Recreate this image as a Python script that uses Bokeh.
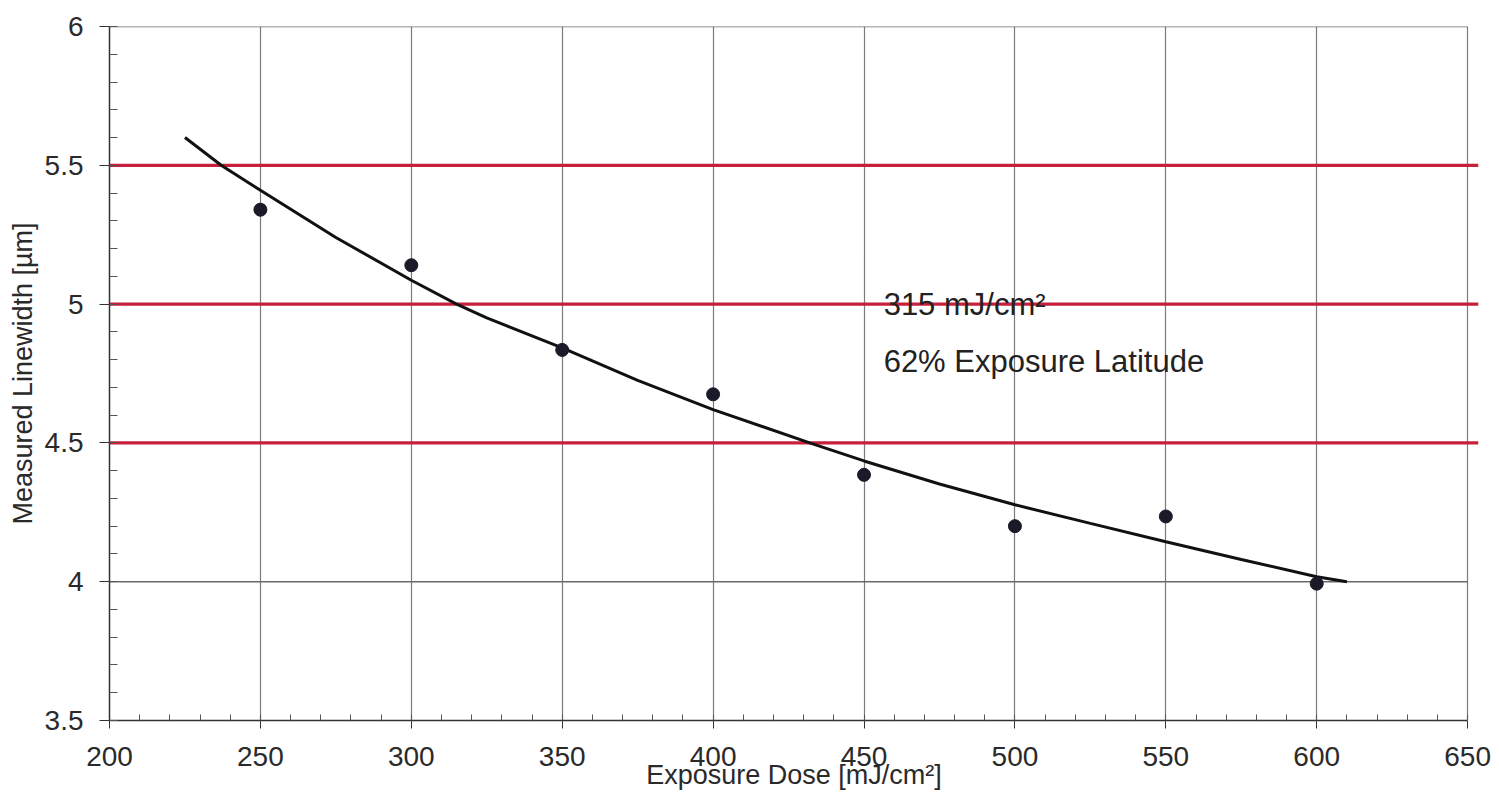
from bokeh.plotting import figure
from bokeh.models import Range1d, FixedTicker, CustomJSTickFormatter
from bokeh.core.properties import value
from bokeh.embed import file_html
from bokeh.resources import INLINE

# ---- data ----
dose = [250, 300, 350, 400, 450, 500, 550, 600]
linewidth = [5.34, 5.14, 4.835, 4.675, 4.385, 4.20, 4.235, 3.993]

fit_dose = [225, 237, 250, 275, 300, 315, 325, 350, 375, 400, 432, 450, 475, 500, 525, 550, 575, 600, 610]
fit_lw = [5.60, 5.50, 5.41, 5.24, 5.086, 5.0, 4.95, 4.842, 4.725, 4.62, 4.5, 4.435, 4.352, 4.277, 4.21, 4.144, 4.08, 4.018, 4.0]

spec_limits = [4.5, 5.0, 5.5]
ref_lines = [4.0, 6.0]

x_ticks = [200, 250, 300, 350, 400, 450, 500, 550, 600, 650]
y_ticks = [3.5, 4.0, 4.5, 5.0, 5.5, 6.0]

annot_text = ["315 mJ/cm\u00b2", "62% Exposure Latitude"]
annot_x = [456.5, 456.5]
annot_y = [5.0, 4.795]

FONT = "Liberation Sans"
X0, X1 = x_ticks[0], x_ticks[-1]
X_OVER = 653.6  # red limit lines run slightly past the right border

p = figure(width=1491, height=795, output_backend="svg", toolbar_location=None,
           x_range=Range1d(X0, X_OVER), y_range=Range1d(y_ticks[0], y_ticks[-1]),
           min_border_left=109, min_border_right=13, min_border_top=26, min_border_bottom=75)
p.outline_line_color = None
p.background_fill_color = "white"
p.border_fill_color = "white"

# grids
p.xgrid.ticker = FixedTicker(ticks=x_ticks[1:])
p.xgrid.grid_line_color = "#7a7a80"
p.xgrid.grid_line_width = 1.2
p.ygrid.grid_line_color = None

# y=4 grid line and top border
p.segment(x0=[X0] * len(ref_lines), x1=[X1] * len(ref_lines), y0=ref_lines, y1=ref_lines,
          line_color="#6a6a6a", line_width=1.4)

# spec limit red lines
p.segment(x0=[X0] * len(spec_limits), x1=[X_OVER] * len(spec_limits), y0=spec_limits, y1=spec_limits,
          line_color="#c8203c", line_width=3.2)

# fitted curve
p.line(fit_dose, fit_lw, line_color="#111111", line_width=3)

# measured points
p.scatter(dose, linewidth, size=13, fill_color="#1a1a28", line_color="#1a1a28")

# annotation texts
p.text(x=annot_x, y=annot_y, text=annot_text, text_font=value(FONT), text_font_size="31px",
       text_color="#222222", text_baseline="middle", text_align="left")

# axes
fmt = CustomJSTickFormatter(code="return tick.toString()")

xa = p.xaxis[0]
xa.ticker = FixedTicker(ticks=x_ticks, minor_ticks=list(range(X0, X1 + 1, 10)))
xa.formatter = fmt
xa.bounds = (X0, X1)
xa.axis_label = "Exposure Dose [mJ/cm\u00b2]"
xa.axis_line_color = "#333333"
xa.axis_line_width = 1.5
xa.major_tick_in = 0
xa.major_tick_out = 8
xa.minor_tick_in = 6
xa.minor_tick_out = 0
xa.major_tick_line_color = "#333333"
xa.minor_tick_line_color = "#555555"
xa.major_label_standoff = 18
xa.major_label_text_font = FONT
xa.major_label_text_font_size = "28px"
xa.major_label_text_color = "#2a2a2a"
xa.axis_label_text_font = FONT
xa.axis_label_text_font_size = "27px"
xa.axis_label_text_font_style = "normal"
xa.axis_label_text_color = "#2a2a2a"
xa.axis_label_standoff = -9

ya = p.yaxis[0]
ya.ticker = FixedTicker(ticks=y_ticks, minor_ticks=[round(3.5 + 0.1 * i, 1) for i in range(26)])
ya.formatter = fmt
ya.axis_label = "Measured Linewidth [\u00b5m]"
ya.axis_line_color = "#333333"
ya.axis_line_width = 1.5
ya.major_tick_in = 0
ya.major_tick_out = 10
ya.minor_tick_in = 8
ya.minor_tick_out = 0
ya.major_tick_line_color = "#333333"
ya.minor_tick_line_color = "#555555"
ya.major_label_standoff = 16
ya.major_label_text_font = FONT
ya.major_label_text_font_size = "28px"
ya.major_label_text_color = "#2a2a2a"
ya.axis_label_text_font = FONT
ya.axis_label_text_font_size = "27px"
ya.axis_label_text_font_style = "normal"
ya.axis_label_text_color = "#2a2a2a"
ya.axis_label_standoff = 4

open("out.html", "w").write(file_html(p, INLINE))
